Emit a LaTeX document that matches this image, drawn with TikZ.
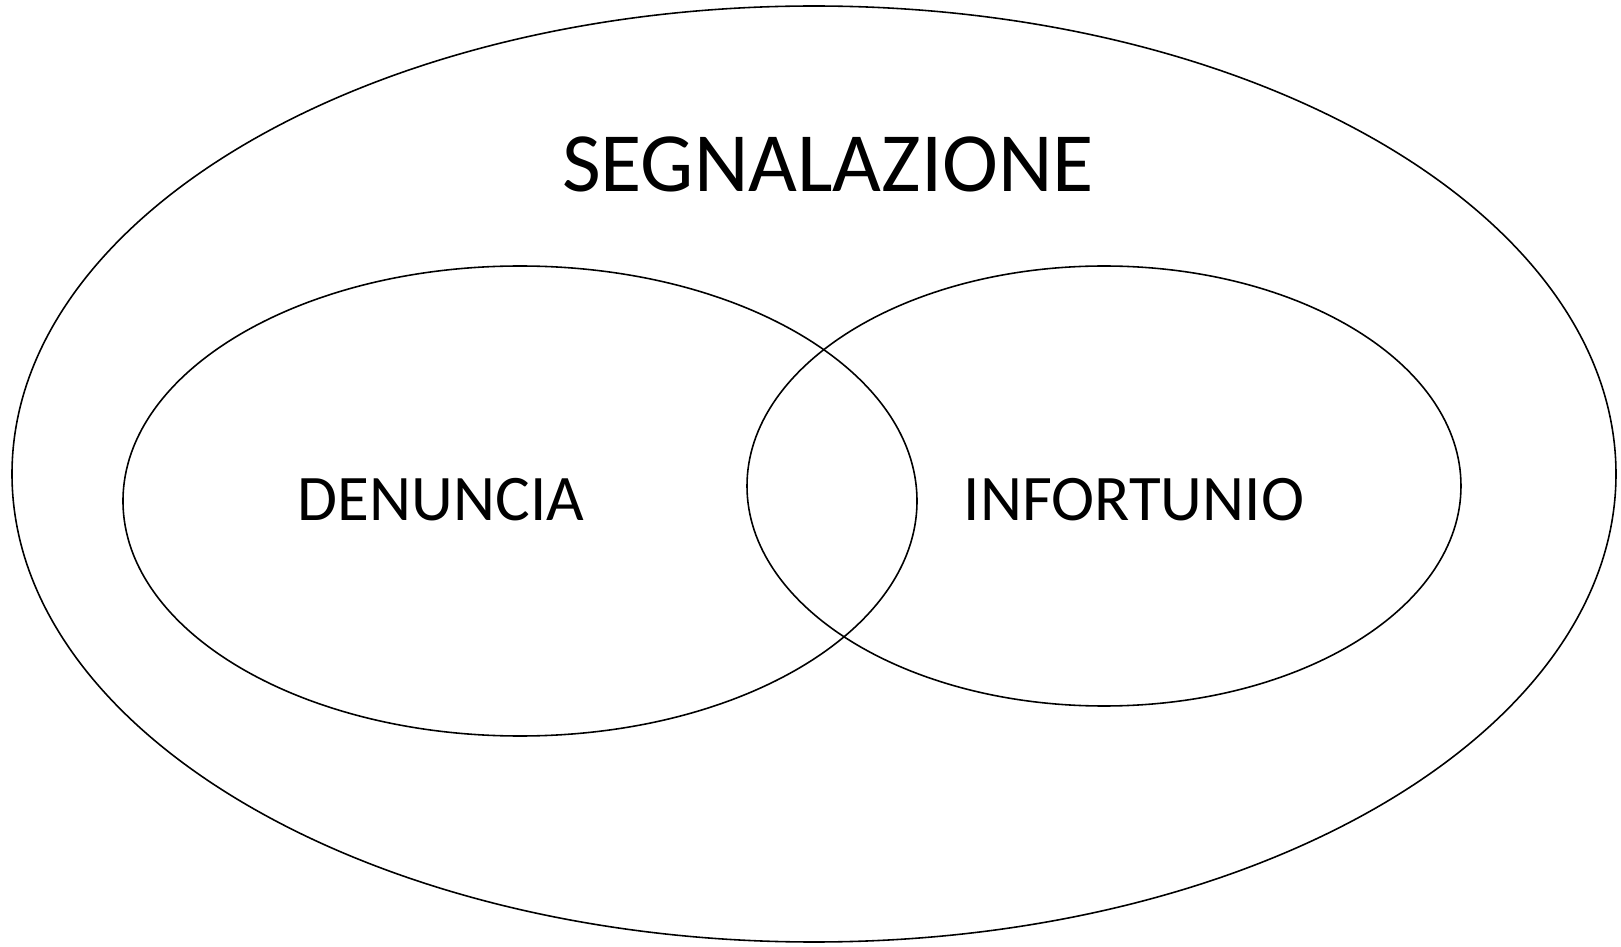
\documentclass[tikz,border=0pt]{standalone}
\usepackage{fontspec}
\setmainfont{Carlito}
\begin{document}
\begin{tikzpicture}[set/.style={line width=0.45pt}, label/.style={anchor=base, inner sep=0pt}]
    % Page frame
    \useasboundingbox (0,0) rectangle (16.21, 9.46);

    % Outer set
    \draw[set] (8.14, 4.72) ellipse (8.02 and 4.68);
    \node[label, font=\fontsize{24}{28}\selectfont] (segnalazione) at (8.28, 7.54) {SEGNALAZIONE};

    % Inner sets
    \draw[set] (5.20, 4.45) ellipse (3.97 and 2.35);
    \node[label, font=\fontsize{18.5}{22}\selectfont] (denuncia) at (4.41, 4.25) {DENUNCIA};

    \draw[set] (11.04, 4.60) ellipse (3.57 and 2.20);
    \node[label, font=\fontsize{18.5}{22}\selectfont] (infortunio) at (11.34, 4.25) {INFORTUNIO};

\end{tikzpicture}
\end{document}
